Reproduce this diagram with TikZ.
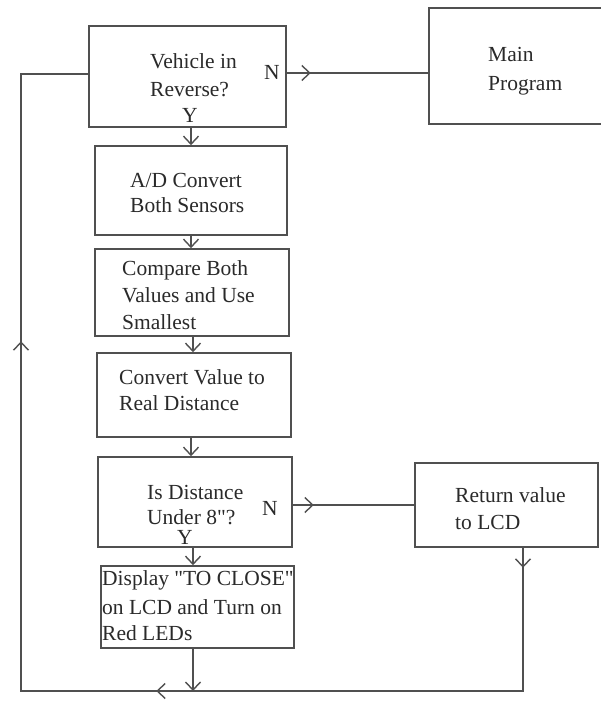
\documentclass[tikz,border=0pt]{standalone}
\usepackage{fontspec}
\setmainfont{Liberation Serif}
\usetikzlibrary{arrows.meta,fit,decorations.markings,calc}
\definecolor{ln}{HTML}{505050}
\definecolor{tx}{HTML}{2a2a2a}
\begin{document}
\begin{tikzpicture}[x=1pt,y=-1pt,
  box/.style={draw=ln,line width=1.6pt,inner sep=0pt,rectangle},
  txt/.style={text=tx,font=\fontsize{21.5}{27}\selectfont,inner sep=0pt,anchor=base west},
  lbl/.style={text=tx,font=\fontsize{21.5}{27}\selectfont,inner sep=0pt,anchor=base},
  conn/.style={draw=ln,line width=1.4pt},
  arr/.style={conn,-{Straight Barb[length=8pt,width=15pt,color=ln]}},
  midarr/.style={postaction={decorate},decoration={markings,mark=at position #1 with {\arrow{Straight Barb[length=8pt,width=15pt,color=ln]}}}}
]
\useasboundingbox (0,0) rectangle (600,706);
\fill[white] (0,0) rectangle (600,706);

% boxes
\node[box,fit={(89,26) (286,127)}] (b1) {};
\node[box,fit={(429,8) (610,124)}] (main) {};
\node[box,fit={(95,146) (287,235)}] (b2) {};
\node[box,fit={(95,249) (289,336)}] (b3) {};
\node[box,fit={(97,353) (291,437)}] (b4) {};
\node[box,fit={(98,457) (292,547)}] (b5) {};
\node[box,fit={(101,566) (294,648)}] (b6) {};
\node[box,fit={(415,463) (598,547)}] (ret) {};

% texts
\node[txt] (t1a) at (150,69) {Vehicle in};
\node[txt] (t1b) at (150,97) {Reverse?};
\node[lbl] (n1) at (272,80) {N};
\node[lbl] (y1) at (190,122) {Y};
\node[txt] (tma) at (488,62) {Main};
\node[txt] (tmb) at (488,91) {Program};
\node[txt] (t2a) at (130,187) {A/D Convert};
\node[txt] (t2b) at (130,212) {Both Sensors};
\node[txt] (t3a) at (122,275) {Compare Both};
\node[txt] (t3b) at (122,302) {Values and Use};
\node[txt] (t3c) at (122,329) {Smallest};
\node[txt] (t4a) at (119,384) {Convert Value to};
\node[txt] (t4b) at (119,410) {Real Distance};
\node[txt] (t5a) at (147,499) {Is Distance};
\node[txt] (t5b) at (147,524) {Under 8\textquotedbl?};
\node[lbl] (y2) at (185,544) {Y};
\node[lbl] (n2) at (270,515) {N};
\node[txt] (t6a) at (102,585) {Display \textquotedbl TO CLOSE\textquotedbl};
\node[txt] (t6b) at (102,614) {on LCD and Turn on};
\node[txt] (t6c) at (102,640) {Red LEDs};
\node[txt] (tra) at (455,502) {Return value};
\node[txt] (trb) at (455,529) {to LCD};

% helper coordinates
\coordinate (ax) at (191,0);
\coordinate (ax2) at (193,0);
\coordinate (rx) at (523,0);
\coordinate (lx) at (21,0);
\coordinate (bj) at (193,691);
\coordinate (b1w) at ($(b1.west)+(0,-2.5)$);
\coordinate (b1e) at ($(b1.east)+(0,-3.5)$);
\coordinate (b5e) at ($(b5.east)+(0,3)$);

% vertical flow
\draw[arr] (b1.south -| ax) -- (b2.north -| ax);
\draw[arr] (b2.south -| ax) -- (b3.north -| ax);
\draw[arr] (b3.south -| ax2) -- (b4.north -| ax2);
\draw[arr] (b4.south -| ax) -- (b5.north -| ax);
\draw[arr] (b5.south -| ax2) -- (b6.north -| ax2);
\draw[arr] (b6.south -| ax2) -- (bj);

% N branches
\draw[conn,midarr=24pt] (b1e) -- (b1e -| main.west);
\draw[conn,midarr=21pt] (b5e) -- (b5e -| ret.west);

% return loop
\draw[conn,postaction={decorate},decoration={markings,
   mark=at position 20pt with {\arrow{Straight Barb[length=8pt,width=15pt,color=ln]}},
   mark=at position 510pt with {\arrow{Straight Barb[length=8pt,width=15pt,color=ln]}},
   mark=at position 995pt with {\arrow{Straight Barb[length=8pt,width=15pt,color=ln]}}}]
  (ret.south -| rx) -- (rx |- bj) -- (lx |- bj) -- (lx |- b1w) -- (b1w);
\end{tikzpicture}
\end{document}
